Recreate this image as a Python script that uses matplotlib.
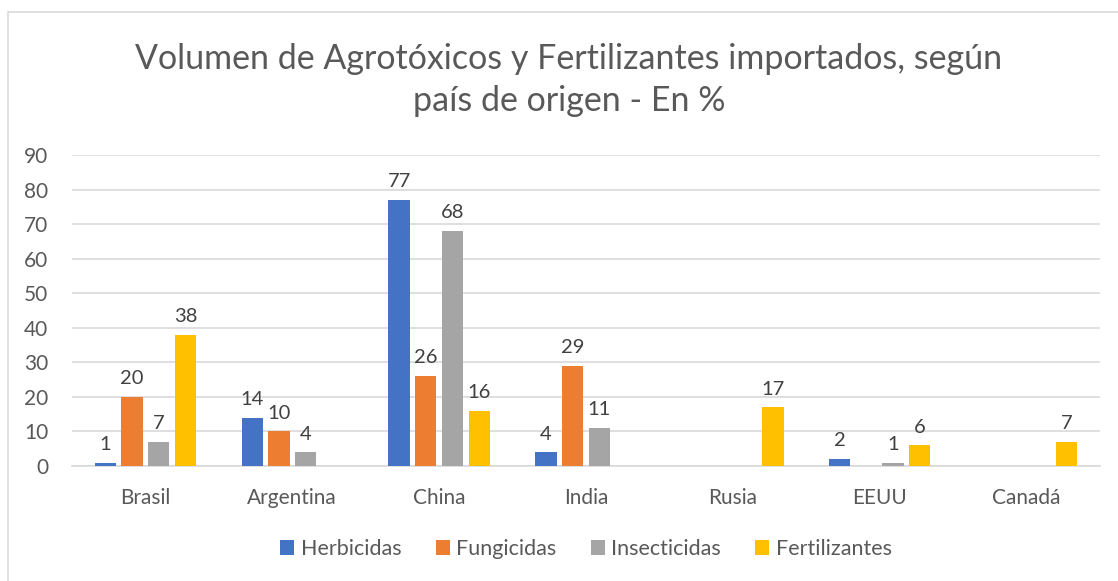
import matplotlib.pyplot as plt
import numpy as np
from matplotlib.patches import Rectangle

paises = ['Brasil', 'Argentina', 'China', 'India', 'Rusia', 'EEUU', 'Canadá']
series = ['Herbicidas', 'Fungicidas', 'Insecticidas', 'Fertilizantes']
herbicidas = [1, 14, 77, 4, None, 2, None]
fungicidas = [20, 10, 26, 29, None, None, None]
insecticidas = [7, 4, 68, 11, None, 1, None]
fertilizantes = [38, None, 16, None, 17, 6, 7]
colores = ['#4472C4', '#ED7D31', '#A5A5A5', '#FFC000']

plt.rcParams['font.family'] = ['Lato', 'DejaVu Sans']
gris = '#595959'

fig = plt.figure(figsize=(11.18, 5.81), dpi=100)
fig.patches.append(Rectangle((8 / 1118, -0.1), 1.2, 1 - 12 / 581 + 0.1,
                             transform=fig.transFigure, fill=False,
                             edgecolor='#D9D9D9', linewidth=1.2))
ax = fig.add_axes([72 / 1118, 1 - 466 / 581, (1100 - 72) / 1118, (466 - 155) / 581])

x = np.arange(len(paises))
paso = 0.182
ancho = 0.145
for i, (nombre, vals) in enumerate(zip(series, [herbicidas, fungicidas, insecticidas, fertilizantes])):
    pos = x + (i - 1.5) * paso
    v = np.array([np.nan if a is None else a for a in vals], dtype=float)
    ax.bar(pos, np.nan_to_num(v), ancho, color=colores[i], label=nombre, zorder=3)
    for p, val in zip(pos, v):
        if not np.isnan(val):
            ax.text(p, val + 2.8, f'{int(val)}', ha='center', va='bottom',
                    fontsize=14.5, color='#404040')

ax.set_ylim(0, 90)
ax.set_xlim(-0.5, len(paises) - 0.5)
ax.set_yticks(range(0, 91, 10))
ax.yaxis.grid(True, color='#D9D9D9', linewidth=1.2, zorder=0)
ax.set_axisbelow(True)
for s in ax.spines.values():
    s.set_visible(False)
ax.spines['bottom'].set_visible(True)
ax.spines['bottom'].set_color('#D9D9D9')
ax.spines['bottom'].set_linewidth(1.2)
ax.tick_params(length=0, labelsize=15, colors=gris)
ax.tick_params(axis='y', pad=17)
ax.tick_params(axis='x', pad=16)
ax.set_xticks(x)
ax.set_xticklabels(paises)

fig.text(569 / 1118, 1 - 80 / 581, 'Volumen de Agrotóxicos y Fertilizantes importados, según\npaís de origen - En %',
         ha='center', va='center', fontsize=24.5, color=gris, linespacing=1.35)

ax.legend(loc='center', bbox_to_anchor=(0.5, (1 - 549 / 581 - (1 - 466 / 581)) / ((466 - 155) / 581)),
          ncol=4, frameon=False, fontsize=15.5, labelcolor=gris,
          handlelength=0.65, handleheight=0.65, handletextpad=0.3, columnspacing=1.6)

fig.savefig('out.png', dpi=100)
